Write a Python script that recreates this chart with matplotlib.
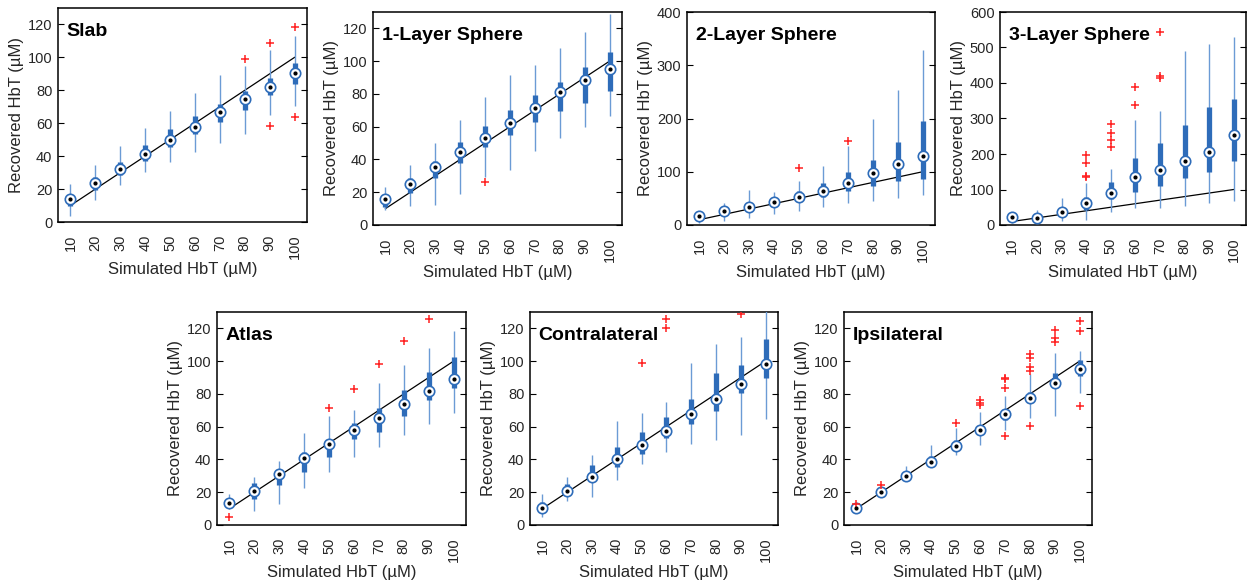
import matplotlib
matplotlib.use("Agg")
import matplotlib.pyplot as plt

plt.rcParams['font.family'] = ['Liberation Sans', 'DejaVu Sans']

# simulated concentrations (x categories)
sim_hbt = [10, 20, 30, 40, 50, 60, 70, 80, 90, 100]

# ---- Slab ----
slab_med = [14.2, 23.9, 32.2, 41.6, 49.9, 57.6, 66.9, 74.8, 82.3, 90.6]
slab_q1 = [10.0, 19.7, 28.4, 37.1, 45.6, 53.5, 60.8, 68.3, 77.0, 83.9]
slab_q3 = [16.0, 27.4, 36.5, 46.6, 56.2, 64.3, 71.8, 79.5, 87.6, 96.3]
slab_lo = [3.9, 13.6, 22.3, 30.2, 36.5, 42.4, 48.0, 53.5, 65.3, 70.3]
slab_hi = [23.3, 34.5, 46.0, 57.2, 67.7, 78.5, 89.0, 95.0, 104.2, 112.9]
slab_out_x = [80, 90, 90, 100, 100]
slab_out_y = [98.9, 108.7, 58.6, 118.2, 63.7]

# ---- 1-Layer Sphere ----
l1_med = [15.9, 25.0, 35.6, 44.5, 53.3, 62.4, 71.4, 81.4, 88.5, 95.2]
l1_q1 = [11.2, 19.3, 28.5, 37.6, 47.4, 54.9, 63.0, 69.6, 74.6, 81.8]
l1_q3 = [18.3, 28.5, 39.3, 50.6, 60.6, 70.2, 79.3, 87.0, 96.6, 105.8]
l1_lo = [9.2, 11.8, 12.2, 18.7, 29.5, 33.6, 45.1, 52.9, 60.0, 66.5]
l1_hi = [23.4, 36.6, 50.2, 64.0, 77.9, 91.5, 97.6, 108.2, 117.6, 128.7]
l1_out_x = [50]
l1_out_y = [26.4]

# ---- 2-Layer Sphere ----
l2_med = [16.9, 25.7, 33.2, 43.9, 52.0, 64.6, 78.4, 97.8, 114.0, 130.4]
l2_q1 = [12.5, 20.0, 28.2, 33.2, 43.9, 53.3, 63.9, 74.0, 82.8, 86.5]
l2_q3 = [22.0, 31.3, 39.5, 50.2, 64.6, 78.4, 100.3, 122.3, 156.7, 196.2]
l2_lo = [4.4, 8.0, 12.5, 20.0, 27.0, 34.5, 40.8, 45.0, 50.8, 56.4]
l2_hi = [27.0, 42.0, 65.8, 62.7, 83.4, 111.6, 148.6, 198.7, 253.9, 329.0]
l2_out_x = [50, 70]
l2_out_y = [107.8, 158.0]

# ---- 3-Layer Sphere ----
l3_med = [21.7, 19.8, 36.7, 61.2, 91.4, 136.6, 155.4, 180.8, 204.4, 254.3]
l3_q1 = [14.0, 14.0, 26.4, 42.4, 72.5, 94.2, 111.0, 131.0, 147.9, 179.0]
l3_q3 = [28.0, 25.4, 47.0, 80.0, 122.4, 187.4, 230.8, 280.7, 332.5, 356.0]
l3_lo = [6.6, 7.5, 12.2, 14.0, 35.8, 47.0, 49.0, 54.6, 61.2, 67.8]
l3_hi = [33.0, 42.4, 75.4, 117.7, 157.3, 296.7, 322.0, 489.8, 510.5, 529.3]
l3_out_x = [40, 40, 40, 40, 50, 50, 50, 50, 60, 60, 70, 70, 70]
l3_out_y = [134, 138, 174, 196, 221, 240, 259, 283.5, 338, 389, 414.4, 421, 543.5]

# ---- Atlas ----
atlas_med = [13.6, 20.7, 31.1, 40.7, 49.6, 58.0, 65.5, 73.6, 81.8, 88.9]
atlas_q1 = [11.6, 15.7, 24.2, 32.5, 41.7, 52.5, 56.5, 66.7, 76.3, 83.8]
atlas_q3 = [14.2, 25.4, 34.4, 44.7, 52.3, 62.0, 71.6, 82.4, 93.1, 102.7]
atlas_lo = [10.8, 8.5, 12.8, 22.4, 32.1, 41.3, 47.8, 54.9, 61.6, 68.1]
atlas_hi = [18.9, 29.5, 39.3, 55.9, 66.5, 70.2, 86.4, 97.6, 107.8, 118.4]
atlas_out_x = [10, 50, 60, 70, 80, 90]
atlas_out_y = [5.1, 71.2, 83.0, 98.0, 112.0, 125.9]

# ---- Contralateral ----
contra_med = [10.6, 20.9, 29.5, 40.5, 48.8, 57.1, 67.5, 77.1, 85.8, 98.2]
contra_q1 = [9.2, 19.7, 29.5, 35.6, 43.1, 52.9, 61.6, 69.6, 80.7, 89.5]
contra_q3 = [14.2, 24.8, 36.6, 47.8, 56.9, 66.1, 76.7, 92.5, 97.6, 113.5]
contra_lo = [5.1, 14.6, 17.3, 27.5, 37.0, 44.7, 49.2, 51.9, 54.9, 64.5]
contra_hi = [18.7, 29.5, 42.7, 63.5, 68.5, 75.2, 98.6, 110.4, 114.5, 131.0]
contra_out_x = [50, 60, 60, 90]
contra_out_y = [98.6, 120.0, 125.7, 128.7]

# ---- Ipsilateral ----
ipsi_med = [10.2, 19.9, 30.1, 38.6, 48.4, 58.0, 67.5, 77.3, 86.4, 95.0]
ipsi_q1 = [9.6, 18.9, 29.5, 37.2, 46.8, 56.3, 64.1, 74.6, 83.4, 90.9]
ipsi_q3 = [11.0, 20.9, 31.5, 42.1, 51.9, 61.0, 70.6, 81.4, 92.9, 100.7]
ipsi_lo = [9.2, 18.3, 28.5, 35.6, 42.7, 48.8, 58.0, 65.1, 66.5, 80.3]
ipsi_hi = [11.6, 22.4, 36.0, 48.8, 59.4, 68.7, 78.9, 91.9, 105.1, 106.2]
ipsi_out_x = [10, 20, 50, 60, 60, 60, 70, 70, 70, 70, 80, 80, 80, 80, 80, 90, 90, 90, 100, 100, 100]
ipsi_out_y = [12.8, 24.2, 62.4, 73.0, 74.6, 76.3, 54.3, 83.4, 89.0, 90.0,
              60.4, 94.2, 96.6, 101.7, 104.1, 111.9, 114.3, 119.0, 72.6, 118.4, 124.7]

panels = [
    ("Slab", slab_med, slab_q1, slab_q3, slab_lo, slab_hi, slab_out_x, slab_out_y, 130, [0, 20, 40, 60, 80, 100, 120], (58, 8, 307, 222)),
    ("1-Layer Sphere", l1_med, l1_q1, l1_q3, l1_lo, l1_hi, l1_out_x, l1_out_y, 130, [0, 20, 40, 60, 80, 100, 120], (373, 12, 622, 225)),
    ("2-Layer Sphere", l2_med, l2_q1, l2_q3, l2_lo, l2_hi, l2_out_x, l2_out_y, 400, [0, 100, 200, 300, 400], (687, 12, 935, 225)),
    ("3-Layer Sphere", l3_med, l3_q1, l3_q3, l3_lo, l3_hi, l3_out_x, l3_out_y, 600, [0, 100, 200, 300, 400, 500, 600], (1000, 12, 1246, 225)),
    ("Atlas", atlas_med, atlas_q1, atlas_q3, atlas_lo, atlas_hi, atlas_out_x, atlas_out_y, 130, [0, 20, 40, 60, 80, 100, 120], (217, 312, 466, 525)),
    ("Contralateral", contra_med, contra_q1, contra_q3, contra_lo, contra_hi, contra_out_x, contra_out_y, 130, [0, 20, 40, 60, 80, 100, 120], (530, 312, 778, 525)),
    ("Ipsilateral", ipsi_med, ipsi_q1, ipsi_q3, ipsi_lo, ipsi_hi, ipsi_out_x, ipsi_out_y, 130, [0, 20, 40, 60, 80, 100, 120], (844, 312, 1092, 525)),
]

W, H = 1252, 585
fig = plt.figure(figsize=(W / 100, H / 100), dpi=100)

box_col = '#2e6cb9'
whisk_col = '#6b9bd5'
txt_col = '#262626'

for name, med, q1, q3, lo, hi, ox, oy, ymax, yticks, (x0, y0, x1, y1) in panels:
    ax = fig.add_axes([x0 / W, 1 - y1 / H, (x1 - x0) / W, (y1 - y0) / H])
    pos = list(range(1, len(sim_hbt) + 1))
    # reference line (recovered == simulated)
    ax.plot([pos[0], pos[-1]], [sim_hbt[0], sim_hbt[-1]], color='black', lw=0.9, zorder=2)
    ax.vlines(pos, lo, hi, color=whisk_col, lw=1.0, zorder=3)
    ax.vlines(pos, q1, q3, color=box_col, lw=3.8, zorder=4)
    ax.plot(pos, med, 'o', ms=7.5, mfc='white', mec=box_col, mew=1.2, zorder=5)
    ax.plot(pos, med, 'o', ms=2.0, color='black', zorder=6)
    oxp = [sim_hbt.index(v) + 1 for v in ox]
    ax.plot(oxp, oy, '+', color='#ff2020', ms=6, mew=1.1, zorder=5)

    ax.set_xlim(0.5, 10.5)
    ax.set_ylim(0, ymax)
    ax.set_xticks(pos)
    ax.set_xticklabels([str(v) for v in sim_hbt], rotation=90, fontsize=10.5)
    ax.set_yticks(yticks)
    ax.tick_params(axis='y', direction='in', length=4, right=True, labelsize=10.5, pad=4, labelcolor=txt_col)
    ax.tick_params(axis='x', length=0, pad=9, labelcolor=txt_col)
    for s in ax.spines.values():
        s.set_linewidth(1.1)
    ax.set_ylabel('Recovered HbT (µM)', fontsize=12, color=txt_col, labelpad=3)
    ax.set_xlabel('Simulated HbT (µM)', fontsize=12, color=txt_col, labelpad=2)
    ax.text(0.035, 0.89, name, transform=ax.transAxes, fontsize=14, fontweight='bold', va='center', ha='left')

fig.savefig('out.png', dpi=100)
